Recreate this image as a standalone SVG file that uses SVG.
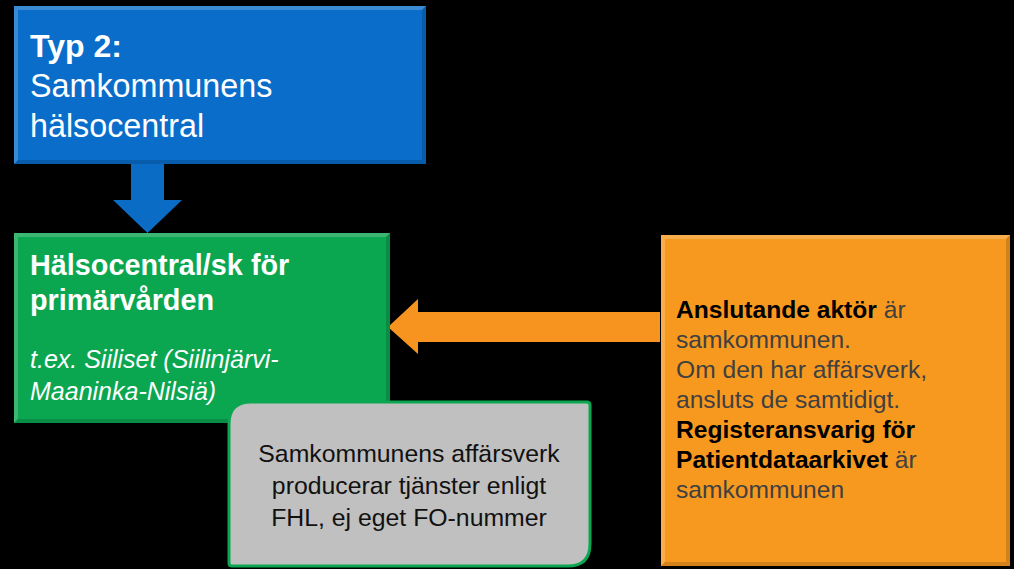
<svg xmlns="http://www.w3.org/2000/svg" width="1014" height="569" viewBox="0 0 1014 569">
<style>
.t{font-family:"Liberation Sans",Arial,sans-serif}
.hl{fill:#ffffff;opacity:0.2}
.sh{fill:#000000;opacity:0.15}
.w{fill:#ffffff}
</style>
<rect x="0" y="0" width="1014" height="569" fill="#000000"/>
<g id="connectors">
<polygon points="131,163 164,163 164,200 182,200 147.5,233 113,200 131,200" fill="#0B6CC6"/>
<polygon points="660,312 418,312 418,299 388,327 418,354 418,342 660,342" fill="#F7941F"/>
</g>
<g id="typ2">
<rect x="14" y="6" width="412" height="158" fill="#0A6DCA"/>
<polygon class="hl" points="14,6 426,6 422,10 18,10"/>
<polygon class="hl" points="14,6 18,10 18,160 14,164"/>
<polygon class="sh" points="14,164 426,164 422,160 18,160"/>
<polygon class="sh" points="426,6 426,164 422,160 422,10"/>
<text class="t w" x="30" y="57" font-size="32" font-weight="bold">Typ 2:</text>
<text class="t w" x="30" y="97" font-size="32.3">Samkommunens</text>
<text class="t w" x="30" y="137" font-size="32.3">hälsocentral</text>
</g>
<g id="halsocentral">
<rect x="14" y="233" width="376" height="190" fill="#0BA650"/>
<polygon class="hl" points="14,233 390,233 386,237 18,237"/>
<polygon class="hl" points="14,233 18,237 18,419 14,423"/>
<polygon class="sh" points="14,423 390,423 386,419 18,419"/>
<polygon class="sh" points="390,233 390,423 386,419 386,237"/>
<text class="t w" x="30" y="275" font-size="28.8" font-weight="bold">Hälsocentral/sk för</text>
<text class="t w" x="30" y="310" font-size="28.8" font-weight="bold">primärvården</text>
<text class="t w" x="30" y="368" font-size="25" font-style="italic">t.ex. Siiliset (Siilinjärvi-</text>
<text class="t w" x="30" y="400" font-size="25" font-style="italic">Maaninka-Nilsiä)</text>
</g>
<g id="affarsverk">
<path d="M251,402 L587,402 Q590,402 590,405 L590,544 Q590,566 568,566 L232,566 Q229,566 229,563 L229,424 Q229,402 251,402 Z" fill="#C0C0C0" stroke="#0BA650" stroke-width="3"/>
<text class="t" x="409" y="462" font-size="24.8" text-anchor="middle" fill="#111111">Samkommunens affärsverk</text>
<text class="t" x="409" y="494" font-size="24.8" text-anchor="middle" fill="#111111">producerar tjänster enligt</text>
<text class="t" x="409" y="526" font-size="24.8" text-anchor="middle" fill="#111111">FHL, ej eget FO-nummer</text>
</g>
<g id="anslutande">
<rect x="661" y="235" width="349" height="331" fill="#F8991F"/>
<polygon class="hl" points="661,235 1010,235 1006,239 665,239"/>
<polygon class="hl" points="661,235 665,239 665,562 661,566"/>
<polygon class="sh" points="661,566 1010,566 1006,562 665,562"/>
<polygon class="sh" points="1010,235 1010,566 1006,562 1006,239"/>
<g class="t" font-size="24.6" fill="#404040">
<text x="676" y="318"><tspan font-weight="bold" fill="#000000">Anslutande aktör</tspan> är</text>
<text x="676" y="348">samkommunen.</text>
<text x="676" y="378">Om den har affärsverk,</text>
<text x="676" y="408">ansluts de samtidigt.</text>
<text x="676" y="438" font-weight="bold" fill="#000000">Registeransvarig för</text>
<text x="676" y="468"><tspan font-weight="bold" fill="#000000">Patientdataarkivet</tspan> är</text>
<text x="676" y="498">samkommunen</text>
</g>
</g>
</svg>
